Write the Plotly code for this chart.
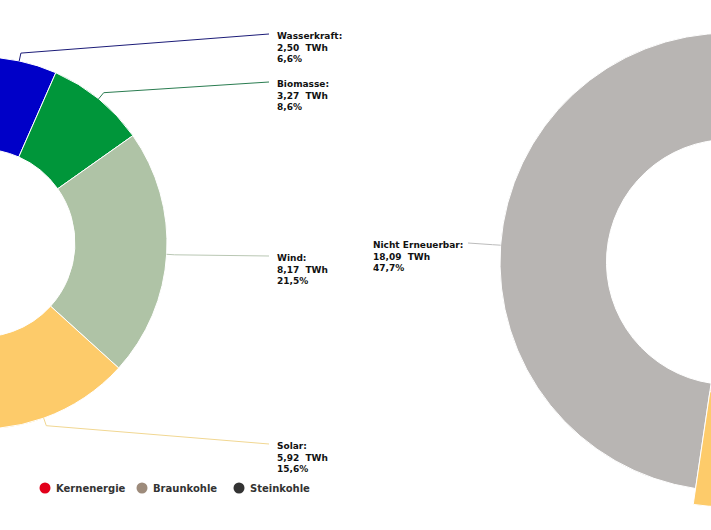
import math
import plotly.graph_objects as go

# === DATA ===
sources = ["Wasserkraft", "Biomasse", "Wind", "Solar", "Nicht Erneuerbar"]
twh = [2.50, 3.27, 8.17, 5.92, 18.09]
colors = ["#0000c8", "#00963a", "#afc3a6", "#fdcb6a", "#b8b5b3"]
line_colors = ["#1c1c78", "#2a7c50", "#b9c7b3", "#f1d792", "#bcbcbc"]

legend_names = ["Kernenergie", "Braunkohle", "Steinkohle"]
legend_colors = ["#e2001a", "#9d8b7b", "#333333"]

# === GEOMETRY (screen px of the 711x530 window) ===
W, H = 1200, 530
SHIFT = 220  # the figure is wider than the window and moved left, so the donuts get cut

left = dict(cx=-19, cy=243, r=186, hole=0.505)
right = dict(cx=729, cy=262, r=229, hole=0.535)
solar_scale = 1.07  # highlighted slice in the right donut

# label blocks: slice, donut, text x, first line y, end x of the leader line
labels = [
    ("Wasserkraft", left, 275, 36, 269),
    ("Biomasse", left, 275, 84, 269),
    ("Wind", left, 275, 258, 269),
    ("Solar", left, 275, 446, 269),
    ("Nicht Erneuerbar", right, 371, 245, 468),
]

# legend row at the bottom: first dot x, dot spacing, row y, dot-to-text gap
leg_x0, leg_step, leg_y, leg_gap = 45, 97, 488, 9

total = sum(twh)


def domain(d, scale=1.0):
    r = d["r"] * scale
    return dict(x=[(d["cx"] - r + SHIFT) / W, (d["cx"] + r + SHIFT) / W],
                y=[(H - d["cy"] - r) / H, (H - d["cy"] + r) / H])


def edge_point(d, i, dr):
    mid = (sum(twh[:i]) + twh[i] / 2) / total
    a = 2 * math.pi * mid
    r = d["r"] + dr
    return d["cx"] + r * math.sin(a), d["cy"] - r * math.cos(a)


def de(v, n):
    return f"{v:.{n}f}".replace(".", ",")


fig = go.Figure()

pie_common = dict(labels=sources, values=twh, sort=False, direction="clockwise",
                  rotation=0, textinfo="none", showlegend=False,
                  hovertemplate="%{label}: %{value:.2f} TWh<extra></extra>")

fig.add_trace(go.Pie(**pie_common, hole=left["hole"], domain=domain(left),
                     marker=dict(colors=colors, line=dict(color="white", width=1))))
fig.add_trace(go.Pie(**pie_common, hole=right["hole"], domain=domain(right),
                     marker=dict(colors=colors, line=dict(color="white", width=1))))

# bigger copy of the solar slice on top of the right donut
solar = sources.index("Solar")
fig.add_trace(go.Pie(**pie_common, hole=right["hole"], domain=domain(right, solar_scale),
                     marker=dict(colors=[c if i == solar else "rgba(0,0,0,0)" for i, c in enumerate(colors)],
                                 line=dict(color="white", width=[1 if i == solar else 0 for i in range(len(colors))]))))

# legend of the other chart: dots + names
leg_xs = [leg_x0 + k * leg_step for k in range(len(legend_names))]
fig.add_trace(go.Scatter(x=leg_xs, y=[leg_y] * len(leg_xs), mode="markers", showlegend=False,
                         marker=dict(color=legend_colors, size=11), hoverinfo="skip"))
for name, lx in zip(legend_names, leg_xs):
    fig.add_annotation(x=lx + leg_gap, y=leg_y, xref="x", yref="y", text=name, showarrow=False,
                       xanchor="left", yanchor="middle",
                       font=dict(family="DejaVu Sans", size=10, color="#333333", weight="bold"))

# leader lines + labels
for name, d, lx, ly, ex in labels:
    i = sources.index(name)
    x0, y0 = edge_point(d, i, 0)
    x1, y1 = edge_point(d, i, 8)
    fig.add_shape(type="path", xref="x", yref="y",
                  path=f"M {x0:.1f},{y0:.1f} L {x1:.1f},{y1:.1f} L {ex},{ly - 2}",
                  line=dict(color=line_colors[i], width=1))
    pct = twh[i] / total * 100
    txt = f"<b>{name}:</b><br><b>{de(twh[i], 2)}\u00a0 TWh</b><br><b>{de(pct, 1)}%</b>"
    fig.add_annotation(x=lx, y=ly + 11.7, xref="x", yref="y", text=txt, showarrow=False,
                       xanchor="left", yanchor="middle", align="left",
                       font=dict(family="DejaVu Sans", size=9, color="#111111"))

fig.update_layout(
    width=W, height=H,
    margin=dict(l=0, r=0, t=0, b=0),
    paper_bgcolor="white", plot_bgcolor="white",
    xaxis=dict(range=[-SHIFT, W - SHIFT], visible=False, fixedrange=True),
    yaxis=dict(range=[H, 0], visible=False, fixedrange=True),
    showlegend=False,
    font=dict(family="DejaVu Sans"),
)

shift_js = ("var gd=document.getElementById('{plot_id}');"
            "gd.style.marginLeft='-" + str(SHIFT) + "px';"
            "document.body.style.margin='0';document.body.style.overflow='hidden';")

fig.write_html("out.html", config={"displayModeBar": False}, post_script=shift_js)
